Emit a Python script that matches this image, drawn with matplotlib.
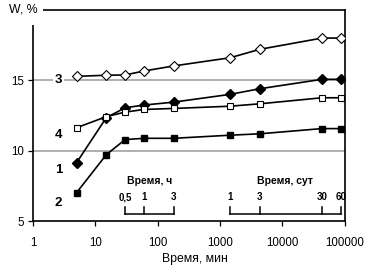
import matplotlib
matplotlib.use('Agg')
import matplotlib.pyplot as plt
import matplotlib.transforms as mtransforms
from matplotlib.patches import Rectangle

plt.rcParams['font.family'] = ['Liberation Sans', 'DejaVu Sans']

# time, minutes
t_min = [5, 15, 30, 60, 180, 1440, 4320, 43200, 86400]

w1 = [9.15, 12.35, 13.05, 13.24, 13.45, 14.0, 14.4, 15.07, 15.07]
w2 = [7.02, 9.72, 10.79, 10.88, 10.88, 11.1, 11.2, 11.57, 11.57]
w3 = [15.28, 15.36, 15.38, 15.66, 16.02, 16.6, 17.2, 18.0, 18.0]
w4 = [11.63, 12.42, 12.74, 12.93, 13.0, 13.16, 13.33, 13.76, 13.76]

x_ticks = [1, 10, 100, 1000, 10000, 100000]
y_ticks = [5, 10, 15]

hours_ticks = [30, 60, 180]
hours_labels = ['0,5', '1', '3']
days_ticks = [1440, 4320, 43200, 86400]
days_labels = ['1', '3', '30', '60']


def main():
    fig = plt.figure(figsize=(3.72, 2.75), dpi=100)
    ax = fig.add_axes([0.0887, 0.196, 0.927 - 0.0887, 0.964 - 0.196])

    ax.set_xscale('log')
    ax.set_xlim(1, 100000)
    ax.set_ylim(5, 20)

    for y in [10, 15]:
        ax.axhline(y, color='#9a9a9a', lw=1.1, zorder=1)

    lw = 1.2
    ax.plot(t_min, w3, '-D', color='black', mfc='white', mec='black', ms=5.5, mew=0.8, lw=lw, zorder=3)
    ax.plot(t_min, w1, '-D', color='black', mfc='black', ms=5.5, lw=lw, zorder=3)
    ax.plot(t_min, w4, '-s', color='black', mfc='white', mec='black', ms=5, mew=0.8, lw=lw, zorder=3)
    ax.plot(t_min, w2, '-s', color='black', mfc='black', ms=4.8, lw=lw, zorder=3)

    # curve numbers
    for txt, y in [('3', 15.0), ('4', 11.1), ('1', 8.6), ('2', 6.25)]:
        ax.text(2.55, y, txt, fontsize=9.5, fontweight='bold', ha='center', va='center',
                bbox=dict(facecolor='white', edgecolor='none', pad=1), zorder=2)

    ax.set_xticks(x_ticks)
    ax.set_xticklabels(['1', '10', '100', '1000', '10000', '100000'])
    ax.xaxis.set_minor_locator(matplotlib.ticker.NullLocator())
    ax.set_yticks(y_ticks)
    ax.tick_params(axis='both', labelsize=8.3, direction='out', length=3.5, width=0.9, colors='black')
    ax.tick_params(axis='x', pad=8)
    ax.tick_params(axis='y', pad=3)

    for s in ax.spines.values():
        s.set_linewidth(1.2)
        s.set_color('black')

    # y label sits in place of the top tick label, hiding the corner
    ax.add_patch(Rectangle((-0.03, 0.929), 0.062, 0.1, transform=ax.transAxes,
                           facecolor='white', edgecolor='none', zorder=6, clip_on=False))
    ax.text(0.016, 1.0, 'W, %', transform=ax.transAxes, fontsize=8.8, ha='right', va='center',
            zorder=7, clip_on=False)

    ax.set_xlabel('Время, мин', fontsize=8.8)
    ax.xaxis.set_label_coords(0.52, -0.15)

    # secondary scales: hours and days
    trans = mtransforms.blended_transform_factory(ax.transData, ax.transAxes)
    y_line = 0.035
    y_tick_top = 0.065
    for ticks, labels, title in [(hours_ticks, hours_labels, 'Время, ч'),
                                 (days_ticks, days_labels, 'Время, сут')]:
        ax.plot([ticks[0], ticks[-1]], [y_line, y_line], color='black', lw=1.1,
                transform=trans, clip_on=False)
        for t, lab in zip(ticks, labels):
            ax.plot([t, t], [y_line, y_tick_top], color='black', lw=1.1,
                    transform=trans, clip_on=False)
            ax.text(t, 0.09, lab, transform=trans, fontsize=7, fontweight='bold',
                    ha='center', va='bottom')
        mid = (ticks[0] * ticks[-1]) ** 0.5
        ax.text(mid, 0.165, title, transform=trans, fontsize=7.5, fontweight='bold',
                ha='center', va='bottom')

    fig.savefig('out.png', dpi=100)


if __name__ == '__main__':
    main()
